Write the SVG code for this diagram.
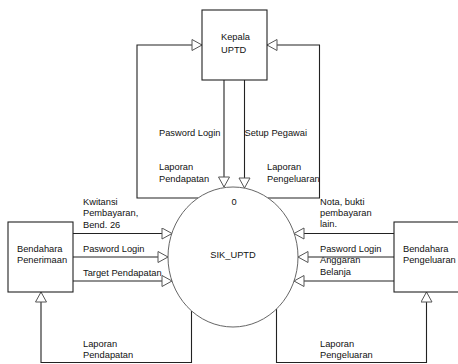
<svg xmlns="http://www.w3.org/2000/svg" width="458" height="364" viewBox="0 0 458 364">
<defs>
<marker id="arr" markerUnits="userSpaceOnUse" markerWidth="14" markerHeight="14" refX="11" refY="6" orient="auto">
<path d="M1,0.5 L11,6 L1,11.5 Z" fill="#fff" stroke="#555" stroke-width="1"/>
</marker>
</defs>
<style>
.box{fill:#fff;stroke:#222;stroke-width:1.1}
.proc{fill:#fff;stroke:#666;stroke-width:1}
.ln{fill:none;stroke:#222;stroke-width:1.1;marker-end:url(#arr)}
text{font-family:"Liberation Sans",Arial,sans-serif;font-size:9.3px;fill:#111}
</style>
<rect width="458" height="364" fill="#fff"/>
<g id="connectors">
<path class="ln" d="M224,80 V187"/>
<path class="ln" d="M244.5,80 V188"/>
<path class="ln" d="M198,198 H137 V45 H202"/>
<path class="ln" d="M268,198 H319.5 V45 H267"/>
<path class="ln" d="M73,233.5 H172"/>
<path class="ln" d="M73,257 H168"/>
<path class="ln" d="M73,281 H172"/>
<path class="ln" d="M394,233.5 H294"/>
<path class="ln" d="M394,257 H298"/>
<path class="ln" d="M394,281 H294"/>
<path class="ln" d="M191.5,311 V362.5 H41 V292"/>
<path class="ln" d="M276.5,309 V362.5 H426.5 V292"/>
</g>
<g id="kepala">
<rect class="box" x="202" y="10" width="65" height="70"/>
<text x="221" y="40">Kepala</text>
<text x="221" y="53">UPTD</text>
</g>
<g id="sik_uptd">
<ellipse class="proc" cx="233" cy="257" rx="65" ry="70"/>
<text x="234" y="205" text-anchor="middle">0</text>
<text x="233" y="258" text-anchor="middle">SIK_UPTD</text>
</g>
<g id="bendahara_penerimaan">
<rect class="box" x="8" y="222" width="65" height="70"/>
<text x="17" y="252">Bendahara</text>
<text x="17" y="263">Penerimaan</text>
</g>
<g id="bendahara_pengeluaran">
<rect class="box" x="394" y="222" width="66" height="70"/>
<text x="403" y="252">Bendahara</text>
<text x="403" y="263">Pengeluaran</text>
</g>
<g id="labels">
<text x="159" y="136">Pasword Login</text>
<text x="244.5" y="136">Setup Pegawai</text>
<text x="159" y="170">Laporan</text>
<text x="159" y="182">Pendapatan</text>
<text x="267" y="170">Laporan</text>
<text x="267" y="182">Pengeluaran</text>
<text x="83" y="205">Kwitansi</text>
<text x="83" y="216">Pembayaran,</text>
<text x="83" y="228">Bend. 26</text>
<text x="83" y="252">Pasword Login</text>
<text x="83" y="276">Target Pendapatan</text>
<text x="320" y="205">Nota, bukti</text>
<text x="320" y="216">pembayaran</text>
<text x="320" y="227">lain.</text>
<text x="320" y="252">Pasword Login</text>
<text x="320" y="263">Anggaran</text>
<text x="320" y="275">Belanja</text>
<text x="83" y="347">Laporan</text>
<text x="83" y="358">Pendapatan</text>
<text x="320" y="347">Laporan</text>
<text x="320" y="358">Pengeluaran</text>
</g>
</svg>
